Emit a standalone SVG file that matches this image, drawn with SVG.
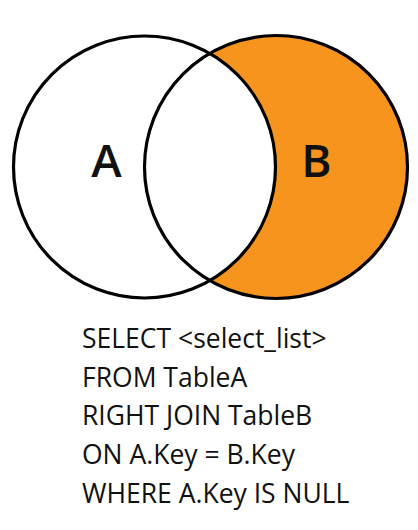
<svg xmlns="http://www.w3.org/2000/svg" width="418" height="530" viewBox="0 0 418 530">
  <style>
    .ring { fill: none; stroke: #000; stroke-width: 3.2; }
    .label { font-family: "Open Sans", "Liberation Sans", sans-serif; font-size: 46px; font-weight: 600; fill: #111; text-anchor: middle; }
    .sql { font-family: "Open Sans", "Liberation Sans", sans-serif; font-size: 26.5px; fill: #111; }
  </style>
  <defs>
    <clipPath id="clipB">
      <circle cx="276" cy="167" r="131.5"/>
    </clipPath>
  </defs>
  <rect width="418" height="530" fill="#fff"/>
  <g id="circleB">
    <circle cx="276" cy="167" r="131.5" fill="#F7941E"/>
  </g>
  <g id="intersection">
    <circle cx="144.5" cy="167" r="131" fill="#fff" clip-path="url(#clipB)"/>
  </g>
  <g id="circleA">
    <circle class="ring" cx="144.5" cy="167" r="131"/>
    <text class="label" x="106.5" y="177">A</text>
  </g>
  <g id="circleB-outline">
    <circle class="ring" cx="276" cy="167" r="131.5"/>
    <text class="label" x="316.5" y="177">B</text>
  </g>
  <g id="query">
    <text class="sql" x="82" y="347.5">SELECT &lt;select_list&gt;</text>
    <text class="sql" x="82" y="386.5">FROM TableA</text>
    <text class="sql" x="82" y="425.4">RIGHT JOIN TableB</text>
    <text class="sql" x="82" y="464.3">ON A.Key = B.Key</text>
    <text class="sql" x="82" y="503">WHERE A.Key IS NULL</text>
  </g>
</svg>
